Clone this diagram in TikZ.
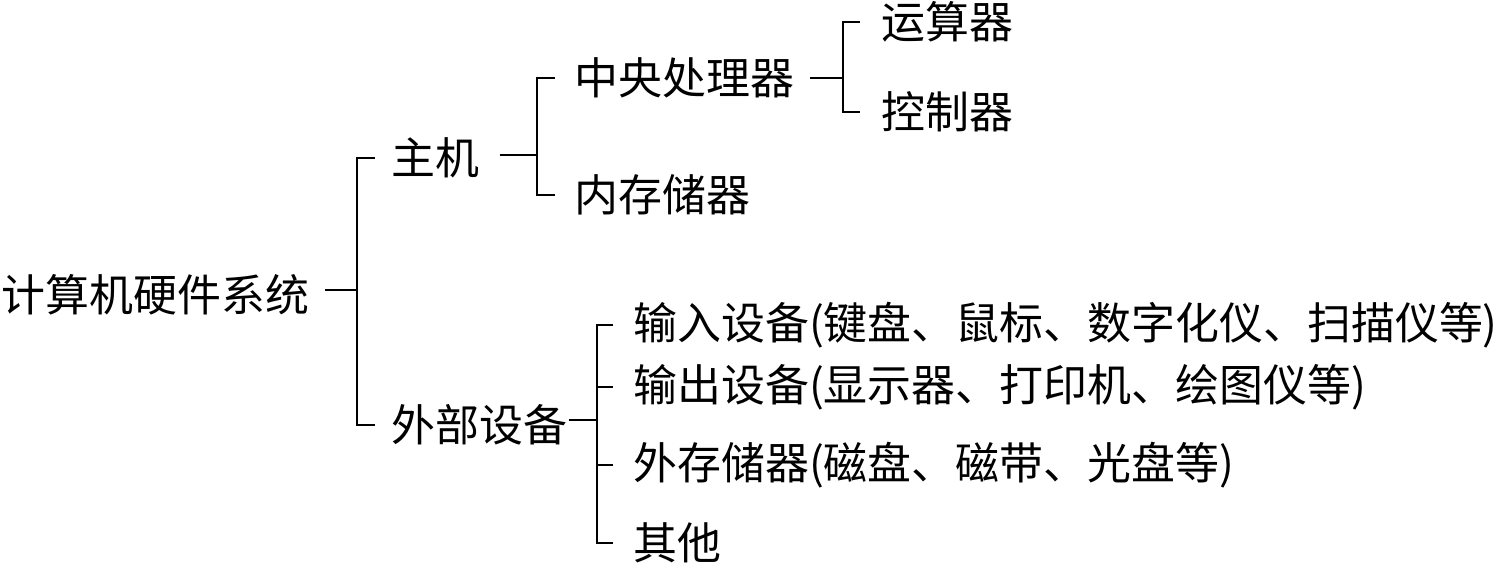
\documentclass[tikz,border=0pt]{standalone}
\usepackage{fontspec}
\setmainfont{Noto Sans CJK SC}
\begin{document}
\begin{tikzpicture}[thick,font=\fontsize{12.5}{14}\selectfont,
  item/.style={anchor=west,inner sep=0pt}]
\useasboundingbox (0,0) rectangle (15,-5.63);
% Root
\node[item] (root) at (0.0,-2.95) {计算机硬件系统};
\coordinate (b1) at (3.57,-2.9);
\draw ([xshift=1.5mm]root.east |- b1) -- (b1);

% Host
\node[item] (zhuji) at (3.90,-1.58) {主机};
\node[item] (waibu) at (3.90,-4.25) {外部设备};
\draw ([xshift=-1.5mm]zhuji.west) -| (b1) |- ([xshift=-1.5mm]waibu.west);

\coordinate (b2) at (5.37,-1.55);
\draw ([xshift=1.9mm]zhuji.east |- b2) -- (b2);
\node[item] (cpu) at (5.73,-0.78) {中央处理器};
\node[item] (nei) at (5.73,-1.95) {内存储器};
\draw ([xshift=-1.8mm]cpu.west) -| (b2) |- ([xshift=-1.8mm]nei.west);

% CPU
\coordinate (b3) at (8.43,-0.78);
\draw ([xshift=1.5mm]cpu.east |- b3) -- (b3);
\node[item] (yun) at (8.80,-0.22) {运算器};
\node[item] (kong) at (8.80,-1.12) {控制器};
\draw ([xshift=-2mm]yun.west) -| (b3) |- ([xshift=-2mm]kong.west);

% Peripherals
\coordinate (b4) at (5.97,-4.2);
\draw (waibu.east |- b4) -- (b4);
\node[item] (in) at (6.32,-3.25) {输入设备(键盘、鼠标、数字化仪、扫描仪等)};
\node[item] (out) at (6.32,-3.87) {输出设备(显示器、打印机、绘图仪等)};
\node[item] (wai) at (6.32,-4.65) {外存储器(磁盘、磁带、光盘等)};
\node[item] (qi) at (6.32,-5.43) {其他};
\draw ([xshift=-1.9mm]in.west) -| (b4) |- ([xshift=-1.9mm]qi.west);
\draw (b4 |- out.west) -- ([xshift=-1.9mm]out.west);
\draw (b4 |- wai.west) -- ([xshift=-1.9mm]wai.west);
\end{tikzpicture}
\end{document}
